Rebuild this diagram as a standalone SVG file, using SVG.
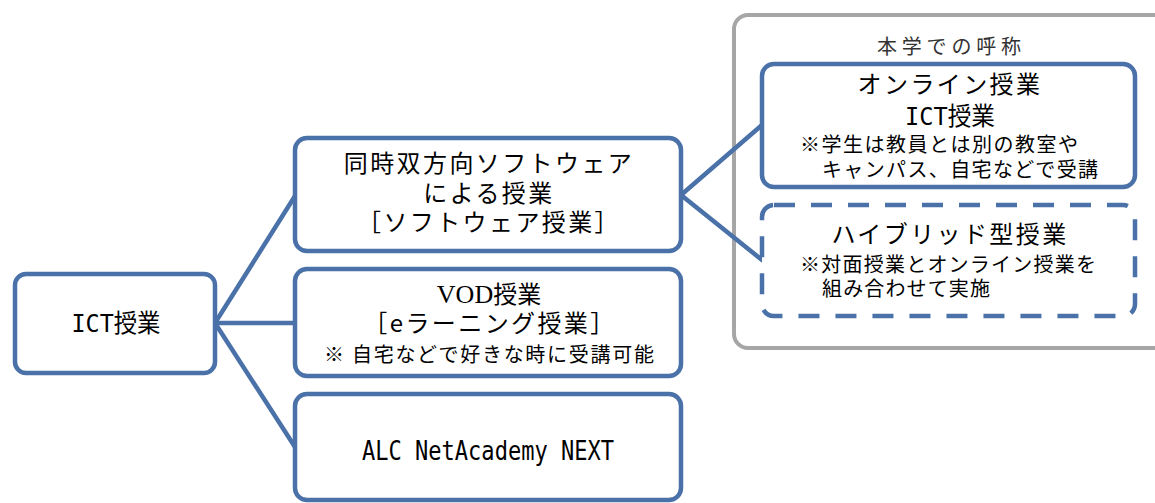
<svg xmlns="http://www.w3.org/2000/svg" width="1155" height="503" viewBox="0 0 1155 503">
<style>
.box{fill:#ffffff;stroke:#4A72A9;stroke-width:4.5}
.dash{fill:#ffffff;stroke:#4A72A9;stroke-width:4.5;stroke-dasharray:21 16}
.group{fill:#ffffff;stroke:#A6A6A6;stroke-width:4}
.conn{stroke:#4A72A9;stroke-width:4.5;fill:none;stroke-linecap:round}
.t{font-family:"Noto Sans CJK JP","Noto Sans",sans-serif;fill:#000000}
.mono{font-family:"DejaVu Sans Mono","Liberation Mono",monospace}
.big{font-size:24px;letter-spacing:2.4px}
.mid{font-size:25px}
.sm{font-size:20px}
.c{text-anchor:middle}
</style>
<rect width="1155" height="503" fill="#ffffff"/>
<g id="group-honbu">
<rect class="group" x="734" y="15" width="440" height="333" rx="14"/>
<text class="t c" x="949" y="54" font-size="20" style="fill:#333333" textLength="144" lengthAdjust="spacing">本学での呼称</text>
</g>
<g id="connectors">
<line class="conn" x1="215" y1="323" x2="295" y2="196"/>
<line class="conn" x1="215" y1="323" x2="295" y2="323"/>
<line class="conn" x1="215" y1="323" x2="295" y2="447"/>
<line class="conn" x1="681" y1="195" x2="762" y2="125"/>
<line class="conn" x1="681" y1="195" x2="762" y2="260"/>
</g>
<g id="node-ict">
<rect class="box" x="15" y="274" width="200" height="99" rx="11"/>
<text class="t c" x="116" y="332" font-size="25" textLength="89" lengthAdjust="spacingAndGlyphs"><tspan class="mono">ICT</tspan>授業</text>
</g>
<g id="node-software">
<rect class="box" x="295" y="138" width="386" height="113" rx="12"/>
<text class="t big c" x="489" y="172">同時双方向ソフトウェア</text>
<text class="t big c" x="489" y="202">による授業</text>
<text class="t big c" x="489" y="231">［ソフトウェア授業］</text>
</g>
<g id="node-vod">
<rect class="box" x="295" y="269" width="386" height="107" rx="12"/>
<text class="t c" x="489" y="303" font-size="24"><tspan font-family="Liberation Serif, serif" font-size="26">VOD</tspan>授業</text>
<text class="t big c" x="490" y="332">［eラーニング授業］</text>
<text class="t sm c" x="489" y="362" textLength="330" lengthAdjust="spacing">※ 自宅などで好きな時に受講可能</text>
</g>
<g id="node-alc">
<rect class="box" x="295" y="394" width="386" height="106" rx="12"/>
<text class="t mono c" x="488" y="460" font-size="26" textLength="252" lengthAdjust="spacingAndGlyphs">ALC NetAcademy NEXT</text>
</g>
<g id="node-online">
<rect class="box" x="762" y="64" width="373" height="123" rx="12"/>
<text class="t big c" x="950" y="93">オンライン授業</text>
<text class="t c" x="950" y="125" font-size="25" textLength="90" lengthAdjust="spacingAndGlyphs"><tspan class="mono">ICT</tspan>授業</text>
<text class="t sm" x="800" y="152" textLength="278" lengthAdjust="spacing">※学生は教員とは別の教室や</text>
<text class="t sm" x="822" y="177" textLength="276" lengthAdjust="spacing">キャンパス、自宅などで受講</text>
</g>
<g id="node-hybrid">
<rect class="dash" x="762" y="205" width="373" height="111" rx="12"/>
<text class="t big c" x="950" y="243">ハイブリッド型授業</text>
<text class="t sm" x="800" y="272" textLength="296" lengthAdjust="spacing">※対面授業とオンライン授業を</text>
<text class="t sm" x="822" y="296" textLength="168" lengthAdjust="spacing">組み合わせて実施</text>
</g>
</svg>
